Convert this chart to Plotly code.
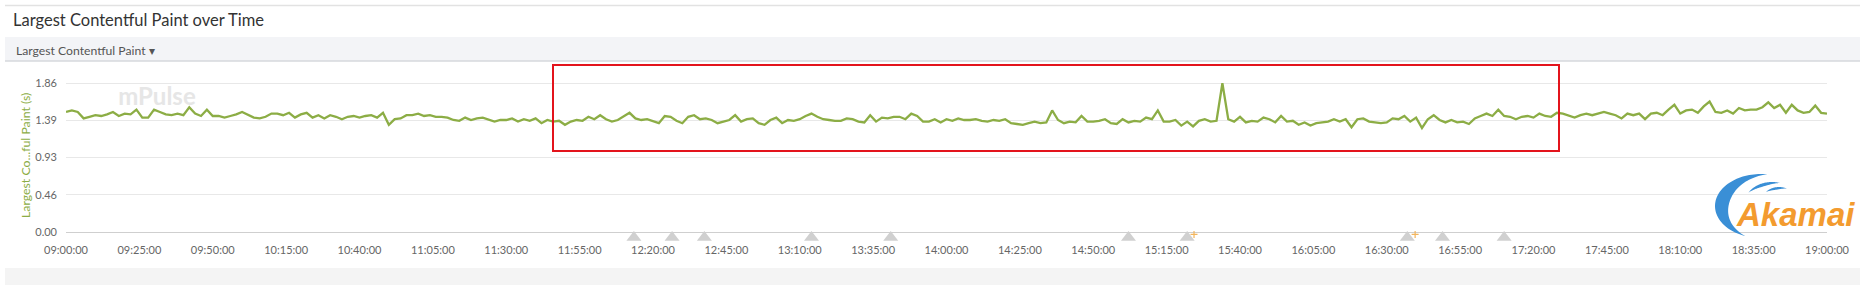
import numpy as np
import pandas as pd
import plotly.graph_objects as go

# ---------------- data ----------------
start_time = "2024-01-01 09:00:00"
interval_minutes = 2

lcp_0900_1128 = [
    1.50, 1.52, 1.50, 1.42, 1.44, 1.46, 1.45, 1.47, 1.50, 1.45,
    1.48, 1.47, 1.53, 1.43, 1.43, 1.53, 1.50, 1.47, 1.46, 1.48,
    1.46, 1.56, 1.48, 1.45, 1.53, 1.45, 1.45, 1.43, 1.45, 1.47,
    1.50, 1.46, 1.43, 1.42, 1.44, 1.48, 1.48, 1.46, 1.49, 1.43,
    1.47, 1.49, 1.43, 1.46, 1.42, 1.46, 1.44, 1.41, 1.44, 1.45,
    1.43, 1.45, 1.46, 1.43, 1.49, 1.34, 1.41, 1.42, 1.46, 1.46,
    1.48, 1.45, 1.46, 1.44, 1.44, 1.43, 1.40, 1.39, 1.43, 1.40,
    1.42, 1.43, 1.40, 1.38, 1.40,
]
lcp_1130_1358 = [
    1.40, 1.42, 1.38, 1.41, 1.39, 1.42, 1.36, 1.40, 1.38, 1.39,
    1.34, 1.38, 1.40, 1.39, 1.44, 1.41, 1.46, 1.41, 1.38, 1.40,
    1.44, 1.49, 1.42, 1.40, 1.41, 1.38, 1.36, 1.45, 1.44, 1.39,
    1.36, 1.44, 1.46, 1.41, 1.42, 1.40, 1.36, 1.38, 1.40, 1.46,
    1.38, 1.41, 1.42, 1.36, 1.34, 1.40, 1.43, 1.36, 1.40, 1.39,
    1.41, 1.45, 1.48, 1.44, 1.41, 1.40, 1.39, 1.39, 1.42, 1.41,
    1.38, 1.37, 1.46, 1.38, 1.43, 1.42, 1.44, 1.44, 1.41, 1.48,
    1.45, 1.38, 1.38, 1.41, 1.37,
]
lcp_1400_1628 = [
    1.41, 1.39, 1.42, 1.40, 1.40, 1.41, 1.39, 1.38, 1.40, 1.39,
    1.41, 1.36, 1.35, 1.34, 1.36, 1.38, 1.36, 1.37, 1.52, 1.40,
    1.36, 1.38, 1.37, 1.45, 1.38, 1.38, 1.39, 1.41, 1.36, 1.35,
    1.41, 1.37, 1.39, 1.38, 1.43, 1.41, 1.52, 1.38, 1.38, 1.40,
    1.33, 1.38, 1.32, 1.39, 1.41, 1.38, 1.39, 1.86, 1.41, 1.38,
    1.44, 1.37, 1.39, 1.38, 1.43, 1.41, 1.37, 1.45, 1.38, 1.39,
    1.34, 1.37, 1.33, 1.36, 1.37, 1.38, 1.41, 1.38, 1.41, 1.31,
    1.41, 1.42, 1.38, 1.37, 1.36,
]
lcp_1630_1900 = [
    1.37, 1.42, 1.41, 1.45, 1.38, 1.43, 1.30, 1.41, 1.46, 1.40,
    1.37, 1.40, 1.37, 1.38, 1.35, 1.42, 1.45, 1.48, 1.45, 1.53,
    1.45, 1.44, 1.41, 1.44, 1.45, 1.43, 1.48, 1.45, 1.44, 1.49,
    1.48, 1.45, 1.43, 1.46, 1.48, 1.46, 1.48, 1.50, 1.48, 1.46,
    1.42, 1.48, 1.46, 1.48, 1.41, 1.48, 1.49, 1.46, 1.53, 1.59,
    1.48, 1.52, 1.53, 1.49, 1.57, 1.63, 1.50, 1.49, 1.52, 1.48,
    1.55, 1.52, 1.53, 1.53, 1.56, 1.62, 1.55, 1.59, 1.49, 1.59,
    1.52, 1.49, 1.50, 1.58, 1.49, 1.48,
]

annotation_times = ["12:13:30", "12:26:30", "12:37:30", "13:14:00", "13:41:00",
                    "15:02:00", "15:22:00", "16:37:00", "16:49:00", "17:10:00"]
alert_times = ["15:24:20", "16:39:40"]

y_tick_values = [0, 0.465, 0.93, 1.395, 1.86]
y_tick_labels = ["0.00", "0.46", "0.93", "1.39", "1.86"]

# ---------------- build ----------------
lcp = lcp_0900_1128 + lcp_1130_1358 + lcp_1400_1628 + lcp_1630_1900
times = pd.date_range(start_time, periods=len(lcp), freq=f"{interval_minutes}min")
day = start_time.split(" ")[0]

W, H = 1868, 285
L, R, T, B = 66, 41, 80, 43          # plot bottom sits 10px under the zero line
PW, PH = W - L - R, H - T - B
Y0, Y1 = -0.125, 1.9                 # 80 px per second


def px(x):
    return (x - L) / PW


def py(y):
    return (H - B - y) / PH


FONT = "Lato, 'Open Sans', sans-serif"
GREEN = "#8cad45"

fig = go.Figure()

# watermark behind the line
fig.add_trace(go.Scatter(
    x=[pd.Timestamp(f"{day} 09:31:00")], y=[1.66], mode="text", text=["<b>mPulse</b>"],
    textfont=dict(family=FONT, size=24, color="#e6e6e6"),
    hoverinfo="skip", showlegend=False, cliponaxis=False))

fig.add_trace(go.Scatter(
    x=times, y=lcp, mode="lines",
    line=dict(color=GREEN, width=2.3), showlegend=False))

fig.add_trace(go.Scatter(
    x=[pd.Timestamp(f"{day} {t}") for t in annotation_times],
    y=[-0.068] * len(annotation_times), mode="markers",
    marker=dict(symbol="triangle-up", size=13, color="#d0d0d0"),
    showlegend=False, hoverinfo="skip"))

fig.add_trace(go.Scatter(
    x=[pd.Timestamp(f"{day} {t}") for t in alert_times],
    y=[-0.03] * len(alert_times), mode="markers",
    marker=dict(symbol="cross-thin", size=5, line=dict(color="#f3b55c", width=1.2)),
    showlegend=False, hoverinfo="skip"))

shapes = [
    dict(type="line", xref="paper", yref="paper", x0=px(5), x1=px(1860), y0=py(5.5), y1=py(5.5),
         line=dict(color="#e2e2e2", width=1.5)),
    dict(type="rect", xref="paper", yref="paper", x0=px(5), x1=px(1860), y0=py(61), y1=py(37),
         fillcolor="#f3f4f7", line=dict(width=0)),
    dict(type="line", xref="paper", yref="paper", x0=px(5), x1=px(1860), y0=py(61), y1=py(61),
         line=dict(color="#d6d8dc", width=1.5)),
    dict(type="rect", xref="paper", yref="paper", x0=px(5), x1=px(1860), y0=py(285), y1=py(268),
         fillcolor="#f4f4f4", line=dict(width=0)),
    dict(type="rect", xref="paper", yref="paper", x0=px(553), x1=px(1559), y0=py(151), y1=py(65),
         line=dict(color="#e3141c", width=2), fillcolor="rgba(0,0,0,0)"),
]


def crescent(cx, cy, rx, ry, a0, a1, w, n=60):
    th = np.radians(np.linspace(a0, a1, n))
    s = np.sin(np.pi * (th - th[0]) / (th[-1] - th[0]))
    ox = cx + rx * np.cos(th)
    oy = cy - ry * np.sin(th)
    ix = cx + (rx - w * s) * np.cos(th)
    iy = cy - (ry - w * s * ry / rx) * np.sin(th)
    xs = list(ox) + list(ix[::-1])
    ys = list(oy) + list(iy[::-1])
    path = "M " + " L ".join(f"{px(a):.5f},{py(b):.5f}" for a, b in zip(xs, ys)) + " Z"
    return dict(type="path", xref="paper", yref="paper", path=path,
                fillcolor="#3a8fd6", line=dict(width=0))


shapes.append(crescent(1761, 206, 46, 32, 82, 250, 14))
shapes.append(crescent(1772, 203, 27, 21, 72, 150, 4))
shapes.append(crescent(1779, 201, 17, 14, 62, 140, 3))

annotations = [
    dict(text="Largest Contentful Paint over Time", xref="paper", yref="paper",
         x=px(11), y=py(20), xanchor="left", yanchor="middle", showarrow=False,
         font=dict(family=FONT, size=16.5, color="#333333")),
    dict(text="Largest Contentful Paint ▾", xref="paper", yref="paper",
         x=px(14), y=py(50), xanchor="left", yanchor="middle", showarrow=False,
         font=dict(family=FONT, size=12.2, color="#555555")),
    dict(text="Largest Co...ful Paint (s)", xref="paper", yref="paper",
         x=px(25), y=py(156), xanchor="center", yanchor="middle", showarrow=False,
         textangle=-90, font=dict(family=FONT, size=12.3, color=GREEN)),
    dict(text="Akamai", xref="paper", yref="paper",
         x=px(1734), y=py(214), xanchor="left", yanchor="middle", showarrow=False,
         font=dict(family="'Liberation Sans', Arial, sans-serif", size=33, color="#f39b2f",
                   weight="bold", style="italic")),
]

fig.update_layout(
    width=W, height=H,
    margin=dict(l=L, r=R, t=T, b=B, pad=0),
    paper_bgcolor="white", plot_bgcolor="white",
    shapes=shapes, annotations=annotations,
    showlegend=False,
    xaxis=dict(
        type="date",
        range=[pd.Timestamp(f"{day} 09:00:00"), pd.Timestamp(f"{day} 19:00:00")],
        tick0=pd.Timestamp(f"{day} 09:00:00"), dtick=25 * 60 * 1000,
        tickformat="%H:%M:%S", showgrid=False, zeroline=False,
        showline=False, ticks="", ticklabelstandoff=0,
        tickfont=dict(family=FONT, size=11, color="#666666"),
        fixedrange=True,
    ),
    yaxis=dict(
        range=[Y0, Y1], tickvals=y_tick_values, ticktext=y_tick_labels,
        showgrid=True, gridcolor="#e8e8e8", gridwidth=1,
        zeroline=True, zerolinecolor="#cfcfcf", zerolinewidth=1,
        showline=False, ticks="", ticklabelstandoff=8,
        tickfont=dict(family=FONT, size=11, color="#666666"),
        fixedrange=True,
    ),
)

fig.write_html("out.html")
